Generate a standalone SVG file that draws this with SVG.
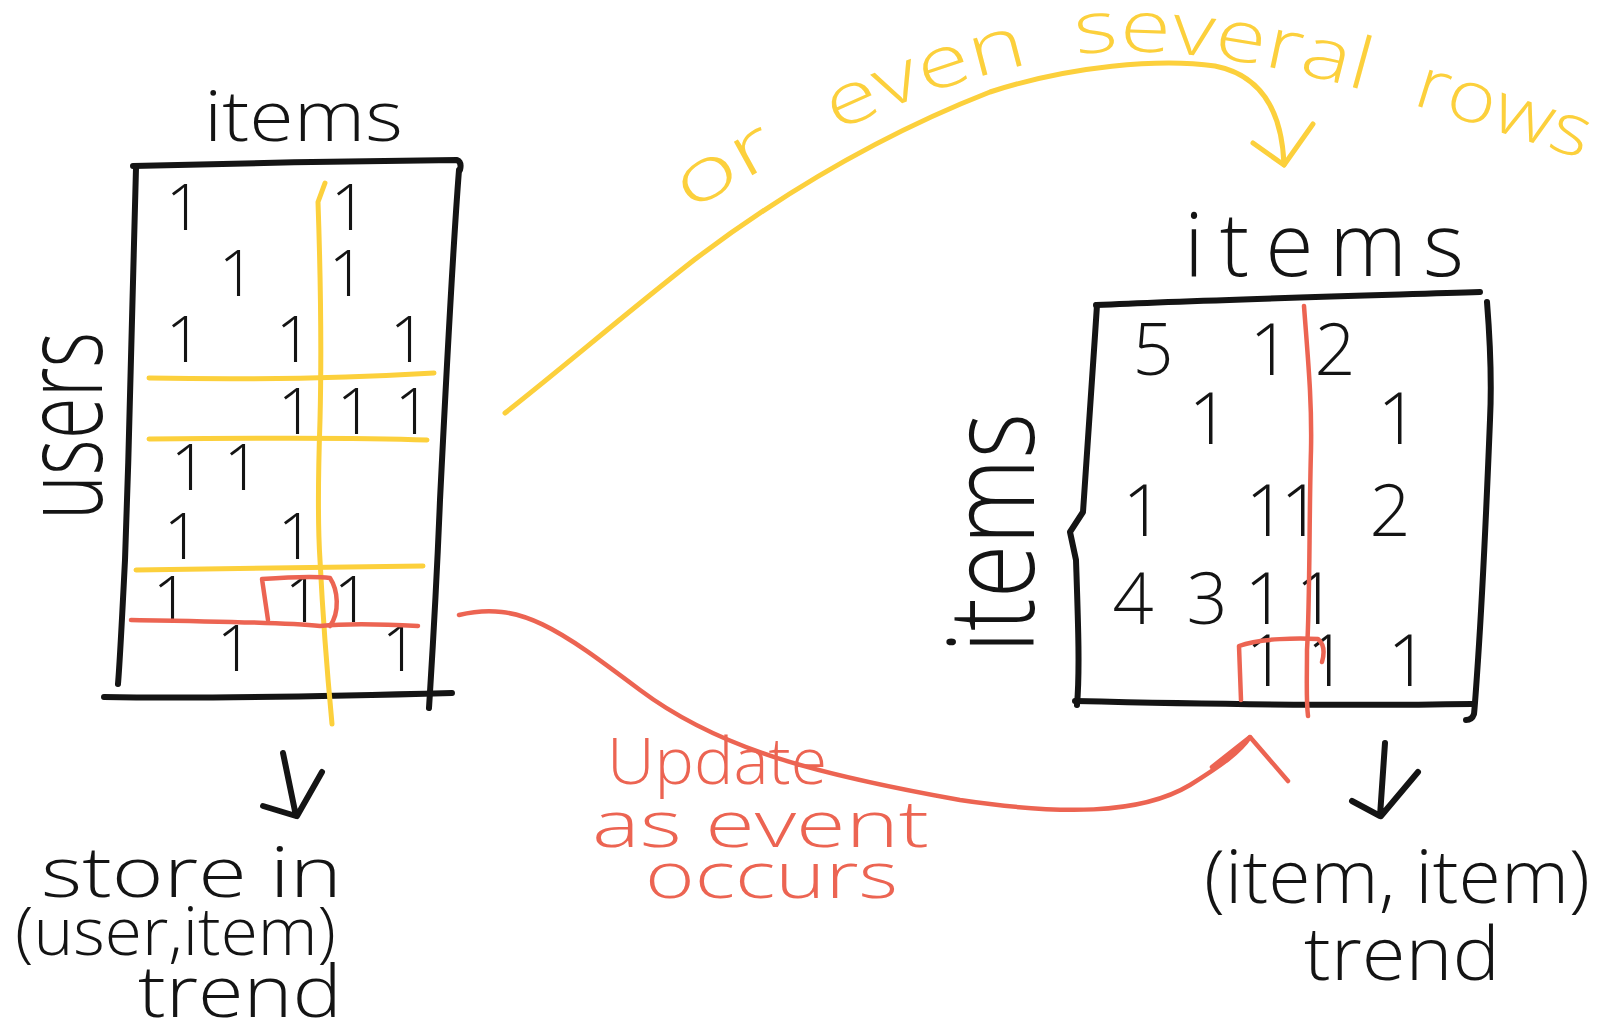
<svg xmlns="http://www.w3.org/2000/svg" width="1600" height="1026" viewBox="0 0 1600 1026">
  <style>
    .ink { fill: none; stroke: #141414; stroke-width: 6; stroke-linecap: round; stroke-linejoin: round; }
    .yel { fill: none; stroke: #fcd03c; stroke-width: 5; stroke-linecap: round; stroke-linejoin: round; }
    .red { fill: none; stroke: #ec6452; stroke-width: 4.5; stroke-linecap: round; stroke-linejoin: round; }
    text { font-family: "Open Sans", "Liberation Sans", sans-serif; font-weight: 300; }
    .k { fill: #141414; }
    .d { fill: #141414; font-size: 64px; text-anchor: middle; }
    .d2 { fill: #141414; font-size: 72px; text-anchor: middle; }
    .ty { fill: #fcd03c; font-size: 72px; }
    .tr { fill: #ec6452; font-size: 64px; }
  </style>
  <defs>
    <!-- baseline for the curved yellow note -->
    <path id="arc" d="M690,212 C790,150 940,70 1100,52 C1250,45 1400,100 1585,160"/>
  </defs>

  <!-- user x item matrix -->
  <g id="user-item-matrix">
    <path class="ink" d="M133,166 C240,163 350,161 457,160 Q462,162 460,170"/>
    <path class="ink" d="M136,168 C134,260 130,420 125,560 C122,620 120,660 118,684"/>
    <path class="ink" d="M459,170 C452,260 446,380 440,500 C436,600 432,660 429,708"/>
    <path class="ink" d="M104,697 C220,699 340,696 452,693"/>
    <g class="d">
      <text x="184" y="230">1</text><text x="349" y="230">1</text>
      <text x="237" y="296">1</text><text x="347" y="296">1</text>
      <text x="184" y="362">1</text><text x="294" y="362">1</text><text x="408" y="362">1</text>
      <text x="296" y="434">1</text><text x="355" y="434">1</text><text x="413" y="434">1</text>
      <text x="189" y="490">1</text><text x="242" y="490">1</text>
      <text x="182" y="559">1</text><text x="296" y="559">1</text>
      <text x="171" y="622">1</text><text x="303" y="622">1</text><text x="352" y="622">1</text>
      <text x="235" y="671">1</text><text x="400" y="671">1</text>
    </g>
    <!-- selected rows and column -->
    <path class="yel" d="M149,378 C250,380 350,378 434,373"/>
    <path class="yel" d="M149,439 C250,438 350,437 427,440"/>
    <path class="yel" d="M136,570 C250,569 350,567 423,566"/>
    <path class="yel" d="M325,183 L318,202 C320,260 322,340 320,420 C318,480 318,530 320,560 C322,600 326,660 332,724"/>
    <path class="red" d="M131,620 C200,621 280,622 320,626 C340,624 380,624 418,626"/>
    <path class="red" d="M268,620 L262,579 C290,577 315,576 330,578 C338,590 340,612 330,626"/>
    <text class="k" font-size="70" x="204" y="141" textLength="199" lengthAdjust="spacingAndGlyphs">items</text>
    <text class="k" font-size="110" transform="translate(102,520) rotate(-90)" textLength="188" lengthAdjust="spacingAndGlyphs">users</text>
  </g>

  <!-- item x item matrix -->
  <g id="item-item-matrix">
    <path class="ink" d="M1096,305 C1200,300 1350,296 1480,292"/>
    <path class="ink" d="M1097,305 C1092,380 1087,460 1083,512 L1070,532 L1076,560 C1078,620 1080,670 1077,705"/>
    <path class="ink" d="M1487,302 C1490,340 1492,380 1490,420 C1486,520 1482,600 1478,660 C1476,690 1475,705 1474,714 Q1472,720 1466,720"/>
    <path class="ink" d="M1075,701 C1200,704 1350,706 1472,704"/>
    <g class="d2">
      <text x="1153" y="375">5</text><text x="1270" y="375">1</text><text x="1335" y="375">2</text>
      <text x="1209" y="444">1</text><text x="1398" y="444">1</text>
      <text x="1143" y="536">1</text><text x="1266" y="536">1</text><text x="1301" y="536">1</text><text x="1390" y="536">2</text>
      <text x="1133" y="624">4</text><text x="1207" y="624">3</text><text x="1265" y="624">1</text><text x="1316" y="624">1</text>
      <text x="1266" y="686">1</text><text x="1327" y="686">1</text><text x="1408" y="686">1</text>
    </g>
    <path class="red" d="M1304,306 C1308,360 1312,400 1311,450 C1309,520 1310,600 1307,650 C1307,680 1306,700 1308,716"/>
    <path class="red" d="M1241,700 L1239,646 C1260,638 1300,638 1318,639 C1325,645 1324,655 1322,662"/>
    <text class="k" font-size="88" x="1184" y="276" textLength="280" lengthAdjust="spacing">items</text>
    <text class="k" font-size="120" transform="translate(1034,653) rotate(-90)" textLength="240" lengthAdjust="spacingAndGlyphs">items</text>
  </g>

  <!-- result labels -->
  <g id="user-item-label">
    <text class="k" font-size="70" x="41" y="897" textLength="301" lengthAdjust="spacingAndGlyphs">store in</text>
    <text class="k" font-size="66" x="15" y="955" textLength="321" lengthAdjust="spacingAndGlyphs">(user,item)</text>
    <text class="k" font-size="72" x="138" y="1017" textLength="204" lengthAdjust="spacingAndGlyphs">trend</text>
  </g>
  <g id="item-item-label">
    <text class="k" font-size="74" x="1204" y="903" textLength="386" lengthAdjust="spacingAndGlyphs">(item, item)</text>
    <text class="k" font-size="74" x="1304" y="980" textLength="196" lengthAdjust="spacingAndGlyphs">trend</text>
  </g>
  <g id="update-note">
    <text class="tr" x="607" y="784" textLength="220" lengthAdjust="spacingAndGlyphs">Update</text>
    <text class="tr" font-size="68" x="592" y="847" textLength="337" lengthAdjust="spacingAndGlyphs">as event</text>
    <text class="tr" font-size="64" x="645" y="898" textLength="253" lengthAdjust="spacingAndGlyphs">occurs</text>
  </g>
  <g id="rows-note">
    <text class="ty"><textPath href="#arc" startOffset="0" textLength="105" lengthAdjust="spacingAndGlyphs">or</textPath></text>
    <text class="ty"><textPath href="#arc" startOffset="167" textLength="205" lengthAdjust="spacingAndGlyphs">even</textPath></text>
    <text class="ty"><textPath href="#arc" startOffset="420" textLength="293" lengthAdjust="spacingAndGlyphs">several</textPath></text>
    <text class="ty"><textPath href="#arc" startOffset="761" textLength="180" lengthAdjust="spacingAndGlyphs">rows</textPath></text>
  </g>

  <!-- connectors -->
  <g id="connectors">
    <path class="yel" d="M505,413 C560,370 620,318 694,260 C780,195 880,135 990,92 C1070,66 1160,58 1215,66 C1260,75 1282,110 1284,165"/>
    <path class="yel" d="M1253,143 L1284,165 L1313,124"/>
    <path class="red" d="M459,615 C520,600 560,630 640,690 C720,750 820,775 960,800 C1060,815 1140,815 1190,785 C1222,765 1240,752 1250,737"/>
    <path class="red" d="M1212,767 L1250,737 L1288,781"/>
    <path class="ink" d="M283,753 L296,816 M322,772 L297,816 M263,806 L296,816"/>
    <path class="ink" d="M1385,743 L1380,816 M1418,772 L1381,816 M1352,801 L1380,816"/>
  </g>
</svg>
